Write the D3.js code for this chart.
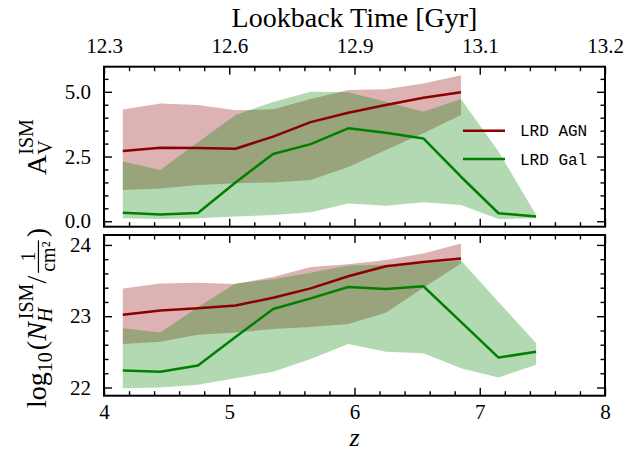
<!DOCTYPE html>
<html><head><meta charset="utf-8">
<script src="https://cdn.jsdelivr.net/npm/d3@7"></script>
<style>body{margin:0;background:#fff}svg{display:block}text{font-family:"Liberation Serif",serif;fill:#000}</style>
</head><body>
<svg id="c" width="644" height="451"></svg>
<script>
// ---------------- data ----------------
const zAGN = [4.15,4.45,4.75,5.05,5.35,5.65,5.95,6.25,6.55,6.85];
const zGal = [4.15,4.45,4.75,5.05,5.35,5.65,5.95,6.25,6.55,6.85,7.15,7.45];

const avAgnMed = [2.71,2.84,2.83,2.80,3.27,3.83,4.19,4.49,4.77,4.98];
const avAgnLo  = [1.21,1.27,1.40,1.47,1.50,1.59,2.10,2.75,3.40,4.10];
const avAgnHi  = [4.32,4.55,4.49,4.29,4.33,4.72,5.07,5.10,5.32,5.64];
const avGalMed = [0.33,0.26,0.32,1.50,2.60,2.98,3.59,3.42,3.20,1.72,0.31,0.18];
const avGalLo  = [0.12,0.09,0.12,0.18,0.24,0.35,0.69,0.60,0.73,0.63,0.09,0.12];
const avGalHi  = [2.31,1.98,3.05,4.10,4.61,5.00,4.98,4.62,4.23,4.72,2.69,0.24];

const nhAgnMed = [23.02,23.08,23.11,23.15,23.26,23.39,23.56,23.70,23.76,23.81];
const nhAgnLo  = [22.61,22.64,22.74,22.77,22.82,22.85,22.89,23.05,23.40,23.74];
const nhAgnHi  = [23.39,23.46,23.47,23.45,23.55,23.69,23.73,23.79,23.88,24.02];
const nhGalMed = [22.24,22.22,22.31,22.71,23.10,23.25,23.41,23.38,23.42,22.92,22.42,22.50];
const nhGalLo  = [21.99,22.00,22.04,22.13,22.22,22.40,22.61,22.50,22.48,22.27,22.14,22.32];
const nhGalHi  = [22.83,22.77,23.13,23.46,23.52,23.61,23.71,23.72,23.74,23.78,23.20,22.62];

const xMajor = [4,5,6,7,8];
const xTickLabels = ["4","5","6","7","8"];
const lookbackLabels = ["12.3","12.6","12.9","13.1","13.2"];
const avMajor = [0,2.5,5.0];
const avTickLabels = ["0.0","2.5","5.0"];
const nhMajor = [22,23,24];
const nhTickLabels = ["22","23","24"];
const seriesNames = ["LRD AGN","LRD Gal"];
const seriesColors = ["#8b0000","#008000"];

// ---------------- layout ----------------
const X0 = 104, X1 = 605;
const P1 = {top:66.7, bottom:226.7};
const P2 = {top:235, bottom:395.7};
const SERIF = "'Liberation Serif', 'Times New Roman', serif";
const svg = d3.select("#c");

const x = d3.scaleLinear().domain([4,8]).range([X0,X1]);
const yA = d3.scaleLinear().domain([-0.21,5.97]).range([P1.bottom,P1.top]);
const yN = d3.scaleLinear().domain([21.885,24.139]).range([P2.bottom,P2.top]);

const xMinor = d3.range(4,8.0001,0.2).filter(v=>Math.abs(v-Math.round(v))>1e-6);
const aMinor = d3.range(0,5.9,0.5).filter(v=>Math.abs(v/2.5-Math.round(v/2.5))>1e-6);
const nMinor = d3.range(22,24.13,0.2).filter(v=>Math.abs(v-Math.round(v))>1e-6);

function band(g, xs, lo, hi, y, col){
  const a = d3.area().x((d,i)=>x(xs[i])).y0((d,i)=>y(lo[i])).y1((d,i)=>y(hi[i]));
  g.append("path").attr("d", a(xs)).attr("fill", col).attr("fill-opacity",0.3).attr("stroke","none");
}
function line(g, xs, ys, y, col){
  const l = d3.line().x((d,i)=>x(xs[i])).y((d,i)=>y(ys[i]));
  g.append("path").attr("d", l(xs)).attr("fill","none").attr("stroke",col).attr("stroke-width",2.5).attr("stroke-linejoin","round");
}

function panel(P, y, yMaj, yMin, yLabs, d, topLabels, bottomLabels){
  const g = svg.append("g");
  band(g, zAGN, d.aLo, d.aHi, y, seriesColors[0]);
  band(g, zGal, d.gLo, d.gHi, y, seriesColors[1]);
  line(g, zAGN, d.aMed, y, seriesColors[0]);
  line(g, zGal, d.gMed, y, seriesColors[1]);

  const MAJ=8, MIN=4.5;
  const style = sel => {
    sel.attr("font-family",null).attr("font-size",null);
    sel.select(".domain").remove();
    sel.selectAll("line").attr("stroke","#000").attr("stroke-width",1.4);
    sel.selectAll("text").style("font-size","21px").style("font-family",SERIF);
  };
  g.append("g").attr("transform",`translate(${X0},0)`).call(d3.axisLeft(y).tickValues(yMaj).tickSize(-MAJ).tickPadding(13).tickFormat((v,i)=>yLabs[i])).call(style);
  g.append("g").attr("transform",`translate(${X0},0)`).call(d3.axisLeft(y).tickValues(yMin).tickSize(-MIN).tickFormat("")).call(style);
  g.append("g").attr("transform",`translate(${X1},0)`).call(d3.axisRight(y).tickValues(yMaj).tickSize(-MAJ).tickFormat("")).call(style);
  g.append("g").attr("transform",`translate(${X1},0)`).call(d3.axisRight(y).tickValues(yMin).tickSize(-MIN).tickFormat("")).call(style);
  g.append("g").attr("transform",`translate(0,${P.top})`).call(d3.axisTop(x).tickValues(xMajor).tickSize(-MAJ).tickPadding(14).tickFormat((v,i)=>topLabels?topLabels[i]:"")).call(style);
  g.append("g").attr("transform",`translate(0,${P.top})`).call(d3.axisTop(x).tickValues(xMinor).tickSize(-MIN).tickFormat("")).call(style);
  g.append("g").attr("transform",`translate(0,${P.bottom})`).call(d3.axisBottom(x).tickValues(xMajor).tickSize(-MAJ).tickPadding(8).tickFormat((v,i)=>bottomLabels?bottomLabels[i]:"")).call(style);
  g.append("g").attr("transform",`translate(0,${P.bottom})`).call(d3.axisBottom(x).tickValues(xMinor).tickSize(-MIN).tickFormat("")).call(style);
  g.append("rect").attr("x",X0).attr("y",P.top).attr("width",X1-X0).attr("height",P.bottom-P.top)
    .attr("fill","none").attr("stroke","#000").attr("stroke-width",2);
  return g;
}

const g1 = panel(P1, yA, avMajor, aMinor, avTickLabels,
  {aLo:avAgnLo,aHi:avAgnHi,aMed:avAgnMed,gLo:avGalLo,gHi:avGalHi,gMed:avGalMed}, lookbackLabels, null);
const g2 = panel(P2, yN, nhMajor, nMinor, nhTickLabels,
  {aLo:nhAgnLo,aHi:nhAgnHi,aMed:nhAgnMed,gLo:nhGalLo,gHi:nhGalHi,gMed:nhGalMed}, null, xTickLabels);

// legend
const leg = g1.append("g");
seriesNames.forEach((n,i)=>{
  const yy = 130.7 + i*28.3;
  leg.append("line").attr("x1",463).attr("x2",505).attr("y1",yy).attr("y2",yy)
    .attr("stroke",seriesColors[i]).attr("stroke-width",2.5);
  leg.append("text").attr("x",520).attr("y",yy+5.5).style("font-size","16px")
    .style("font-family","'Liberation Mono',monospace").text(n);
});

// titles
svg.append("text").attr("x",(X0+X1)/2).attr("y",27).attr("text-anchor","middle").style("font-size","28px").style("font-family",SERIF).text("Lookback Time [Gyr]");
svg.append("text").attr("x",(X0+X1)/2).attr("y",446).attr("text-anchor","middle").style("font-size","26px").style("font-family",SERIF).attr("font-style","italic").text("z");

// rotated math labels
function mathLabel(pieces, baseX, centerY){
  const g = svg.append("g");
  let xp=0, lastStart=0, lastW=0;
  const add = (t,s,xx,yy,it)=> g.append("text").attr("x",xx).attr("y",yy).style("font-size",s+"px").style("font-family",SERIF)
      .attr("font-style",it?"italic":"normal").text(t);
  pieces.forEach(p=>{
    if(p.frac){
      const n = add(p.frac[0],p.s,0,0,false), dn = add(p.frac[1],p.s,0,0,false);
      const wn = n.node().getComputedTextLength(), wd = dn.node().getComputedTextLength();
      const w = Math.max(wn,wd)+4, ax = -0.27*p.L;
      n.attr("x", xp+(w-wn)/2).attr("y", ax-3.5);
      dn.attr("x", xp+(w-wd)/2).attr("y", ax+3+0.66*p.s);
      g.append("line").attr("x1",xp+1).attr("x2",xp+w-1).attr("y1",ax).attr("y2",ax).attr("stroke","#000").attr("stroke-width",1.2);
      lastStart=xp; lastW=w; xp+=w+2;
    } else if(p.stack){
      const t = add(p.t,p.s,lastStart+(p.ox||0),p.dy||0,p.it);
      const w = t.node().getComputedTextLength()+(p.ox||0);
      xp = lastStart + Math.max(lastW,w);
    } else {
      const t = add(p.t,p.s,xp+(p.ox||0),p.dy||0,p.it);
      const w = t.node().getComputedTextLength()+(p.ox||0);
      lastStart = xp; lastW = w; xp += w + (p.after||0);
    }
  });
  g.attr("transform",`translate(${baseX},${centerY+xp/2}) rotate(-90)`);
}
const L=28, S=20;
mathLabel([
  {t:"A",s:L},
  {t:"V",s:S,dy:0.2*L},
  {t:"ISM",s:S,dy:-0.45*L,stack:true}
], 46, 147);
mathLabel([
  {t:"log",s:L},
  {t:"10",s:S,dy:0.22*L,after:2},
  {t:"(",s:L},
  {t:"N",s:L,it:true},
  {t:"H",s:S,dy:0.22*L,it:true},
  {t:"ISM",s:S,dy:-0.45*L,stack:true,ox:3},
  {t:"/",s:L,after:2},
  {frac:["1","cm\u00B2"],s:S,L:L},
  {t:")",s:L}
], 46, 318);
</script>
</body></html>
